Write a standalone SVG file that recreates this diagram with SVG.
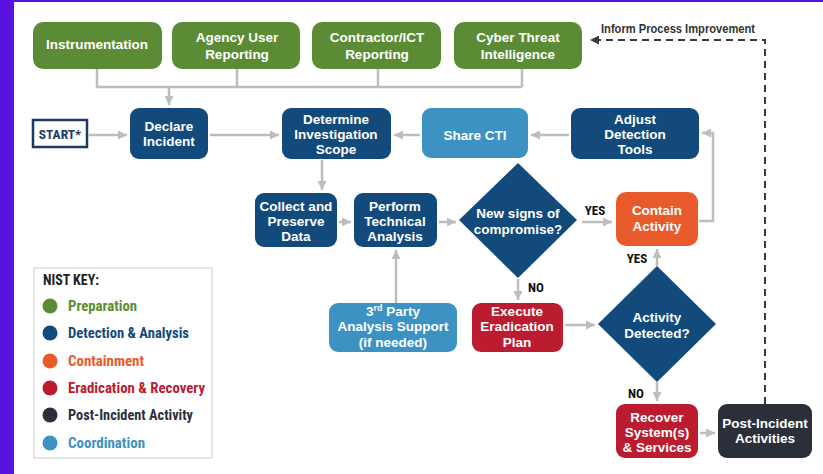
<svg xmlns="http://www.w3.org/2000/svg" width="823" height="474" viewBox="0 0 823 474">
<defs>
<style>
.nt{font-family:"Liberation Sans",Arial,sans-serif;font-weight:bold;font-size:13.5px;fill:#fff;text-anchor:middle}
.cn{stroke:#bdbdbd;stroke-width:2.5;fill:none}
.ar{marker-end:url(#ah)}
.g{fill:#5b8c35}.b{fill:#134a7c}.lb{fill:#3d92c4}.o{fill:#e95a2b}.r{fill:#bb1c30}.d{fill:#2b2f39}
.lk{font-family:"Liberation Sans Narrow","Roboto Condensed","Liberation Sans",sans-serif;font-weight:bold;font-size:14px}
.yn{font-family:"Liberation Sans Narrow","Roboto Condensed","Liberation Sans",sans-serif;font-weight:bold;font-size:13px;fill:#111}
</style>
<marker id="ah" viewBox="0 0 10 10" refX="10" refY="5" markerWidth="9" markerHeight="9" markerUnits="userSpaceOnUse" orient="auto"><path d="M0,0 L10,5 L0,10 z" fill="#bdbdbd"/></marker>
<marker id="ahd" viewBox="0 0 10 10" refX="10" refY="5" markerWidth="9" markerHeight="9" markerUnits="userSpaceOnUse" orient="auto"><path d="M0,0 L10,5 L0,10 z" fill="#3a3a3a"/></marker>
</defs>
<rect width="823" height="474" fill="#ffffff"/>
<rect x="0" y="0" width="14" height="474" fill="#5a12e0"/>
<rect x="0" y="0" width="823" height="2" fill="#5a12e0"/>

<g id="connectors">
<path class="cn" d="M97,69 V87 H522 M237,69 V87 M378,69 V87 M522,69 V87"/>
<path class="cn ar" d="M169,87 V105"/>
<path class="cn ar" d="M89,135 H127"/>
<path class="cn ar" d="M210,135 H279"/>
<path class="cn ar" d="M420,135 H394"/>
<path class="cn ar" d="M569,135 H531"/>
<path class="cn ar" d="M322,160 V190"/>
<path class="cn ar" d="M339,222 H351"/>
<path class="cn ar" d="M439,222 H456"/>
<path class="cn ar" d="M582,222 H612"/>
<path class="cn ar" d="M518,279 V300"/>
<path class="cn ar" d="M396,303 V250"/>
<path class="cn ar" d="M565,325 H595"/>
<path class="cn ar" d="M657,266 V249"/>
<path class="cn ar" d="M657,382 V401"/>
<path class="cn ar" d="M700,433 H715"/>
<path class="cn ar" d="M699,221 H713 V133 H702"/>
<path d="M765,404 V40 H590" fill="none" stroke="#3a3a3a" stroke-width="2" stroke-dasharray="7,5" marker-end="url(#ahd)"/>
<text x="678" y="33" text-anchor="middle" font-family="Liberation Sans,Arial,sans-serif" font-weight="bold" font-size="12.5" fill="#333" textLength="154" lengthAdjust="spacingAndGlyphs">Inform Process Improvement</text>
<text class="yn" x="595" y="215" text-anchor="middle">YES</text>
<text class="yn" x="536" y="292" text-anchor="middle">NO</text>
<text class="yn" x="637" y="263" text-anchor="middle">YES</text>
<text class="yn" x="636" y="398" text-anchor="middle">NO</text>
</g>

<g id="instrumentation"><rect class="g" x="33" y="22" width="129" height="47" rx="10"/><text class="nt" x="97" y="49" font-size="14">Instrumentation</text></g>
<g id="agency"><rect class="g" x="172" y="22" width="128" height="47" rx="10"/><text class="nt" x="237" y="42" font-size="14">Agency User</text><text class="nt" x="237" y="59" font-size="14">Reporting</text></g>
<g id="contractor"><rect class="g" x="312" y="22" width="129" height="47" rx="10"/><text class="nt" x="377" y="42" font-size="14">Contractor/ICT</text><text class="nt" x="377" y="59" font-size="14">Reporting</text></g>
<g id="cti"><rect class="g" x="454" y="22" width="128" height="47" rx="10"/><text class="nt" x="518" y="42" font-size="14">Cyber Threat</text><text class="nt" x="518" y="59" font-size="14">Intelligence</text></g>

<g id="start"><rect x="33" y="120" width="54" height="27" fill="#fff" stroke="#1c3a63" stroke-width="2.5"/><text x="60" y="139" text-anchor="middle" font-family="Liberation Sans Narrow,Roboto Condensed,Liberation Sans,sans-serif" font-weight="bold" font-size="13.5" fill="#1c3a63">START*</text></g>
<g id="declare"><rect class="b" x="130" y="108" width="78" height="51" rx="9"/><text class="nt" x="169" y="131">Declare</text><text class="nt" x="169" y="146">Incident</text></g>
<g id="determine"><rect class="b" x="282" y="108" width="109" height="51" rx="9"/><text class="nt" x="336" y="124">Determine</text><text class="nt" x="336" y="139">Investigation</text><text class="nt" x="336" y="154">Scope</text></g>
<g id="sharecti"><rect class="lb" x="422" y="108" width="106" height="50" rx="9"/><text class="nt" x="475" y="140" font-size="14">Share CTI</text></g>
<g id="adjust"><rect class="b" x="571" y="108" width="128" height="51" rx="9"/><text class="nt" x="635" y="124">Adjust</text><text class="nt" x="635" y="139">Detection</text><text class="nt" x="635" y="154">Tools</text></g>

<g id="collect"><rect class="b" x="255" y="193" width="82" height="54" rx="9"/><text class="nt" x="296" y="211">Collect and</text><text class="nt" x="296" y="226">Preserve</text><text class="nt" x="296" y="241">Data</text></g>
<g id="perform"><rect class="b" x="354" y="193" width="83" height="54" rx="9"/><text class="nt" x="395" y="211">Perform</text><text class="nt" x="395" y="226">Technical</text><text class="nt" x="395" y="241">Analysis</text></g>
<g id="newsigns"><polygon class="b" points="518,163 577,220 518,278 459,220"/><text class="nt" x="518" y="218">New signs of</text><text class="nt" x="518" y="234">compromise?</text></g>
<g id="contain"><rect class="o" x="616" y="192" width="82" height="54" rx="10"/><text class="nt" x="657" y="215" font-size="14">Contain</text><text class="nt" x="657" y="231" font-size="14">Activity</text></g>

<g id="thirdparty"><rect class="lb" x="329" y="303" width="128" height="49" rx="9"/><text class="nt" x="393" y="316">3<tspan font-size="9" dy="-5">rd</tspan><tspan dy="5"> Party</tspan></text><text class="nt" x="393" y="331">Analysis Support</text><text class="nt" x="393" y="347">(if needed)</text></g>
<g id="execute"><rect class="r" x="472" y="303" width="91" height="49" rx="9"/><text class="nt" x="517" y="316">Execute</text><text class="nt" x="517" y="331">Eradication</text><text class="nt" x="517" y="347">Plan</text></g>
<g id="detected"><polygon class="b" points="657,266 716,324 657,382 598,324"/><text class="nt" x="657" y="322">Activity</text><text class="nt" x="657" y="338">Detected?</text></g>
<g id="recover"><rect class="r" x="616" y="404" width="82" height="54" rx="9"/><text class="nt" x="657" y="422">Recover</text><text class="nt" x="657" y="437">System(s)</text><text class="nt" x="657" y="452">&amp; Services</text></g>
<g id="postincident"><rect class="d" x="718" y="404" width="94" height="54" rx="9"/><text class="nt" x="765" y="428">Post-Incident</text><text class="nt" x="765" y="443">Activities</text></g>

<g id="legend">
<rect x="34" y="268" width="178" height="190" fill="#fff" stroke="#cfcfcf" stroke-width="1"/>
<text class="lk" x="43" y="285" fill="#222" textLength="56" lengthAdjust="spacingAndGlyphs">NIST KEY:</text>
<circle cx="50" cy="306" r="7.5" class="g"/><text class="lk" x="68" y="311" fill="#5b8c35" textLength="69" lengthAdjust="spacingAndGlyphs">Preparation</text>
<circle cx="50" cy="333" r="7.5" class="b"/><text class="lk" x="68" y="338" fill="#134a7c" textLength="121" lengthAdjust="spacingAndGlyphs">Detection &amp; Analysis</text>
<circle cx="50" cy="361" r="7.5" class="o"/><text class="lk" x="68" y="366" fill="#e95a2b" textLength="76" lengthAdjust="spacingAndGlyphs">Containment</text>
<circle cx="50" cy="388" r="7.5" class="r"/><text class="lk" x="68" y="393" fill="#bb1c30" textLength="137" lengthAdjust="spacingAndGlyphs">Eradication &amp; Recovery</text>
<circle cx="50" cy="415" r="7.5" class="d"/><text class="lk" x="68" y="420" fill="#2b2f39" textLength="125" lengthAdjust="spacingAndGlyphs">Post-Incident Activity</text>
<circle cx="50" cy="443" r="7.5" class="lb"/><text class="lk" x="68" y="448" fill="#3d92c4" textLength="77" lengthAdjust="spacingAndGlyphs">Coordination</text>
</g>
</svg>
